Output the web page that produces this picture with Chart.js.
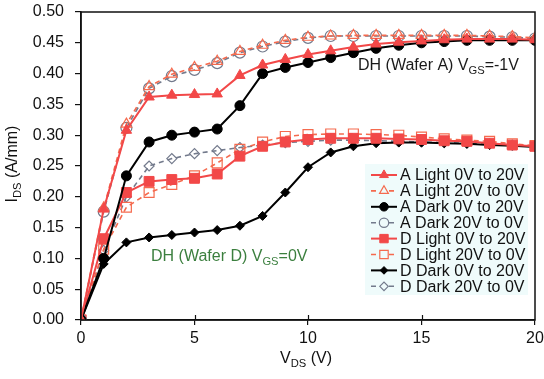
<!DOCTYPE html>
<html>
<head>
<meta charset="utf-8">
<script src="https://cdn.jsdelivr.net/npm/chart.js@4/dist/chart.umd.min.js"></script>
<style>
  html, body { margin: 0; padding: 0; background: #fff; }
  #wrap { width: 544px; height: 379px; }
</style>
</head>
<body>
<div id="wrap"><canvas id="ivChart" width="544" height="379"></canvas></div>
<script>
var vds = [0, 1, 2, 3, 4, 5, 6, 7, 8, 9, 10, 11, 12, 13, 14, 15, 16, 17, 18, 19, 20];

var aLightUp   = [0, 0.180, 0.308, 0.362, 0.365, 0.366, 0.367, 0.397, 0.414, 0.423, 0.431, 0.437, 0.443, 0.448, 0.451, 0.453, 0.455, 0.456, 0.456, 0.456, 0.455];
var aLightDown = [0, 0.182, 0.318, 0.379, 0.399, 0.410, 0.420, 0.436, 0.446, 0.454, 0.459, 0.461, 0.462, 0.462, 0.462, 0.462, 0.462, 0.462, 0.461, 0.460, 0.458];
var aDarkUp    = [0, 0.100, 0.234, 0.289, 0.300, 0.305, 0.310, 0.348, 0.400, 0.410, 0.418, 0.426, 0.434, 0.441, 0.446, 0.450, 0.452, 0.454, 0.454, 0.454, 0.454];
var aDarkDown  = [0, 0.176, 0.312, 0.376, 0.396, 0.406, 0.417, 0.434, 0.444, 0.452, 0.458, 0.461, 0.461, 0.461, 0.461, 0.461, 0.461, 0.461, 0.460, 0.459, 0.457];
var dLightUp   = [0, 0.132, 0.207, 0.225, 0.228, 0.230, 0.237, 0.266, 0.282, 0.289, 0.293, 0.295, 0.295, 0.295, 0.294, 0.293, 0.291, 0.290, 0.287, 0.284, 0.282];
var dLightDown = [0, 0.115, 0.183, 0.207, 0.220, 0.234, 0.255, 0.277, 0.289, 0.298, 0.301, 0.302, 0.302, 0.301, 0.300, 0.297, 0.294, 0.292, 0.290, 0.286, 0.283];
var dDarkUp    = [0, 0.091, 0.126, 0.134, 0.138, 0.142, 0.146, 0.153, 0.169, 0.207, 0.248, 0.272, 0.282, 0.287, 0.288, 0.288, 0.287, 0.286, 0.284, 0.283, 0.281];
var dDarkDown  = [0, 0.113, 0.200, 0.250, 0.262, 0.270, 0.275, 0.280, 0.284, 0.288, 0.290, 0.292, 0.292, 0.291, 0.290, 0.289, 0.288, 0.287, 0.286, 0.284, 0.282];

var seriesNames = [
  'A Light 0V to 20V', 'A Light 20V to 0V', 'A Dark 0V to 20V', 'A Dark 20V to 0V',
  'D Light 0V to 20V', 'D Light 20V to 0V', 'D Dark 0V to 20V', 'D Dark 20V to 0V'
];

var RED = '#f24848';
var RED_LIGHT = '#f56a4e';
var GREY = '#737a8c';
var BLACK = '#000000';
var FONT = '"Liberation Sans", Arial, sans-serif';

function pts(ys) {
  return vds.map(function (v, i) { return { x: v, y: ys[i] }; });
}

function solid(label, ys, color, style, r) {
  return {
    label: label, data: pts(ys),
    borderColor: color, backgroundColor: color,
    borderWidth: 2, pointStyle: style, pointRadius: r,
    pointBackgroundColor: color, pointBorderColor: color, pointBorderWidth: 1
  };
}

function hollow(label, ys, color, style, r) {
  return {
    label: label, data: pts(ys),
    borderColor: color, backgroundColor: 'rgba(0,0,0,0)',
    borderWidth: 1.6, borderDash: [5, 4], pointStyle: style, pointRadius: r,
    pointBackgroundColor: 'rgba(0,0,0,0)', pointBorderColor: color, pointBorderWidth: 1.2
  };
}

var datasets = [
  solid(seriesNames[0], aLightUp, RED, 'triangle', 6),
  hollow(seriesNames[1], aLightDown, RED_LIGHT, 'triangle', 6),
  solid(seriesNames[2], aDarkUp, BLACK, 'circle', 5),
  hollow(seriesNames[3], aDarkDown, GREY, 'circle', 5.5),
  solid(seriesNames[4], dLightUp, RED, 'rect', 7),
  hollow(seriesNames[5], dLightDown, RED_LIGHT, 'rect', 7),
  solid(seriesNames[6], dDarkUp, BLACK, 'rectRot', 4.5),
  hollow(seriesNames[7], dDarkDown, GREY, 'rectRot', 5)
];

// text with a subscript part, parts = [[text, isSub], ...]
function drawSubText(ctx, parts, x, y, size, color, align) {
  var widths = parts.map(function (p) {
    ctx.font = (p[1] ? size * 0.7 : size) + 'px ' + FONT;
    return ctx.measureText(p[0]).width;
  });
  var total = widths.reduce(function (a, b) { return a + b; }, 0);
  var cx = align === 'center' ? x - total / 2 : x;
  ctx.fillStyle = color;
  ctx.textAlign = 'left';
  ctx.textBaseline = 'middle';
  parts.forEach(function (p, i) {
    ctx.font = (p[1] ? size * 0.7 : size) + 'px ' + FONT;
    ctx.fillText(p[0], cx, p[1] ? y + size * 0.28 : y);
    cx += widths[i];
  });
}

var decorations = {
  id: 'decorations',
  afterDraw: function (chart) {
    var ctx = chart.ctx;
    var area = chart.chartArea;
    var xs = chart.scales.x;
    ctx.save();

    // plot frame
    ctx.strokeStyle = '#111';
    ctx.lineWidth = 1.5;
    ctx.strokeRect(area.left, area.top, area.right - area.left, area.bottom - area.top);

    // inner part of the x ticks
    ctx.lineWidth = 1.2;
    [5, 10, 15].forEach(function (v) {
      var px = Math.round(xs.getPixelForValue(v)) + 0.5;
      ctx.beginPath();
      ctx.moveTo(px, area.bottom);
      ctx.lineTo(px, area.bottom - 5);
      ctx.stroke();
    });

    // legend box
    var lx = 365, ly = 164, lw = 163, lh = 131;
    ctx.fillStyle = '#effbfb';
    ctx.fillRect(lx, ly, lw, lh);
    chart.data.datasets.forEach(function (ds, i) {
      var ry = ly + 11 + i * 15.9;
      ctx.save();
      ctx.strokeStyle = ds.borderColor;
      ctx.lineWidth = ds.borderWidth;
      ctx.setLineDash(ds.borderDash || []);
      ctx.beginPath();
      ctx.moveTo(371, ry);
      ctx.lineTo(397, ry);
      ctx.stroke();
      ctx.setLineDash([]);
      if (ds.borderDash) {
        ctx.fillStyle = '#effbfb';
        ctx.fillRect(379, ry - 6, 10, 12);
      }
      ctx.fillStyle = ds.pointBackgroundColor;
      ctx.strokeStyle = ds.pointBorderColor;
      ctx.lineWidth = ds.pointBorderWidth;
      Chart.helpers.drawPoint(ctx, {
        pointStyle: ds.pointStyle, radius: ds.pointRadius * 0.85,
        rotation: 0, borderWidth: ds.pointBorderWidth
      }, 384, ry);
      ctx.restore();
      ctx.fillStyle = '#111';
      ctx.font = '16px ' + FONT;
      ctx.textAlign = 'left';
      ctx.textBaseline = 'middle';
      ctx.fillText(ds.label, 400, ry + 1);
    });

    // curve annotations
    drawSubText(ctx, [['DH (Wafer A) V', false], ['GS', true], ['=-1V', false]], 358, 66, 16, '#1a1a1a', 'left');
    drawSubText(ctx, [['DH (Wafer D) V', false], ['GS', true], ['=0V', false]], 151, 257, 16, '#3b7f3e', 'left');

    // axis titles
    drawSubText(ctx, [['V', false], ['DS', true], [' (V)', false]], 306, 359, 16, '#111', 'center');
    ctx.translate(13, 164);
    ctx.rotate(-Math.PI / 2);
    drawSubText(ctx, [['I', false], ['DS', true], [' (A/mm)', false]], 0, 0, 16, '#111', 'center');
    ctx.restore();
  }
};

new Chart(document.getElementById('ivChart'), {
  type: 'line',
  data: { datasets: datasets },
  plugins: [decorations],
  options: {
    responsive: false,
    animation: false,
    layout: { padding: { left: 0, top: 12, right: 9, bottom: 0 } },
    plugins: { legend: { display: false }, tooltip: { enabled: false } },
    elements: { line: { tension: 0 } },
    scales: {
      x: {
        type: 'linear', min: 0, max: 20,
        afterFit: function (scale) {
          scale.height = 59;
          scale.paddingLeft = 0;
          scale.paddingRight = 0;
        },
        grid: { display: true, drawOnChartArea: false, tickLength: 5, color: '#111', lineWidth: 1.2 },
        border: { display: true, color: '#111', width: 1.5 },
        ticks: { stepSize: 5, color: '#111', padding: 4, font: { family: FONT, size: 16 } }
      },
      y: {
        type: 'linear', min: 0, max: 0.5,
        afterFit: function (scale) {
          scale.width = 81;
          scale.paddingTop = 0;
          scale.paddingBottom = 0;
        },
        grid: { display: true, drawOnChartArea: false, tickLength: 6, color: '#111', lineWidth: 1.2 },
        border: { display: true, color: '#111', width: 1.5 },
        ticks: {
          stepSize: 0.05, color: '#111', padding: 11, font: { family: FONT, size: 16 },
          callback: function (v) { return v.toFixed(2); }
        }
      }
    }
  }
});
</script>
</body>
</html>
